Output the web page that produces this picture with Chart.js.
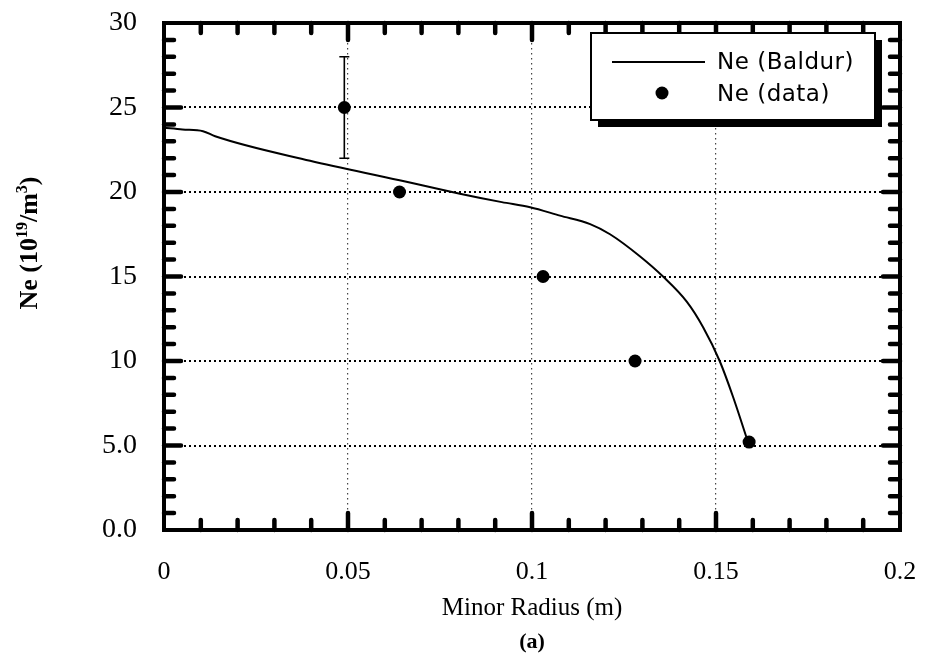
<!DOCTYPE html>
<html>
<head>
<meta charset="utf-8">
<script src="https://cdn.jsdelivr.net/npm/chart.js@4.4.1/dist/chart.umd.min.js"></script>
<style>
html, body { margin: 0; padding: 0; background: #fff; }
</style>
</head>
<body>
<canvas id="chart" width="926" height="660"></canvas>
<script>
// Baldur simulation curve
const radiusBaldur = [0, 0.005, 0.0106, 0.0139, 0.0397, 0.064, 0.0804, 0.0918, 0.0995, 0.1076, 0.1158, 0.1212, 0.1293, 0.1356, 0.1421, 0.1465, 0.151, 0.1546, 0.1587]
const neBaldur = [23.8, 23.7, 23.6, 23.3, 21.85, 20.7, 19.9, 19.4, 19.1, 18.6, 18.1, 17.5, 16.2, 15.0, 13.5, 12.0, 10.0, 7.9, 5.2]

// measured points
const radiusData = [0.049, 0.064, 0.103, 0.128, 0.159]
const neData = [25, 20, 15, 10, 5.2]
const neErrLow = [22, null, null, null, null]
const neErrHigh = [28, null, null, null, null]

const xTickLabels = ['0', '0.05', '0.1', '0.15', '0.2']
const yTickLabels = ['0.0', '5.0', '10', '15', '20', '25', '30']

const seriesLabels = ['Ne (Baldur)', 'Ne (data)']

function pairs(xs, ys){
    return xs.map((x, i) => ({x: x, y: ys[i]}))
}

// error bars on the data points
const errorBars = {
    id: 'errorBars',
    afterDatasetsDraw(chart){
        const ctx = chart.ctx
        const xs = chart.scales.x
        const ys = chart.scales.y
        ctx.save()
        ctx.strokeStyle = '#000'
        ctx.lineWidth = 1.6
        radiusData.forEach((r, i) => {
            if (neErrLow[i] == null) return
            const px = xs.getPixelForValue(r)
            const lo = ys.getPixelForValue(neErrLow[i])
            const hi = ys.getPixelForValue(neErrHigh[i])
            ctx.beginPath()
            ctx.moveTo(px, lo); ctx.lineTo(px, hi)
            ctx.moveTo(px - 5, lo); ctx.lineTo(px + 5, lo)
            ctx.moveTo(px - 5, hi); ctx.lineTo(px + 5, hi)
            ctx.stroke()
        })
        ctx.restore()
    }
}

// heavy frame with inside ticks on all four sides
const frame = {
    id: 'frame',
    afterDatasetsDraw(chart){
        const ctx = chart.ctx
        const a = chart.chartArea
        const xs = chart.scales.x
        const ys = chart.scales.y
        ctx.save()
        ctx.strokeStyle = '#000'
        ctx.lineCap = 'round'
        ctx.lineWidth = 4.5
        for (let i = 1; i < 20; i++){
            const px = xs.getPixelForValue(i / 100)
            const len = i % 5 === 0 ? 17 : 10
            ctx.beginPath()
            ctx.moveTo(px, a.bottom); ctx.lineTo(px, a.bottom - len)
            ctx.moveTo(px, a.top); ctx.lineTo(px, a.top + len)
            ctx.stroke()
        }
        for (let i = 1; i < 30; i++){
            const py = ys.getPixelForValue(i)
            const len = i % 5 === 0 ? 17 : 10
            ctx.beginPath()
            ctx.moveTo(a.left, py); ctx.lineTo(a.left + len, py)
            ctx.moveTo(a.right, py); ctx.lineTo(a.right - len, py)
            ctx.stroke()
        }
        ctx.lineCap = 'butt'
        ctx.lineWidth = 4
        ctx.strokeRect(a.left, a.top, a.right - a.left, a.bottom - a.top)
        ctx.restore()
    }
}

// boxed legend with drop shadow, plus the rotated y title with superscripts
const decorations = {
    id: 'decorations',
    afterDraw(chart){
        const ctx = chart.ctx
        ctx.save()
        // legend
        const bx = 591, by = 33, bw = 284, bh = 87
        ctx.fillStyle = '#000'
        ctx.fillRect(bx + 7, by + 7, bw, bh)
        ctx.fillStyle = '#fff'
        ctx.fillRect(bx, by, bw, bh)
        ctx.strokeStyle = '#000'
        ctx.lineWidth = 2
        ctx.strokeRect(bx, by, bw, bh)
        ctx.beginPath()
        ctx.moveTo(612, 62); ctx.lineTo(705, 62)
        ctx.stroke()
        ctx.fillStyle = '#000'
        ctx.beginPath()
        ctx.arc(662, 93, 6.5, 0, Math.PI * 2)
        ctx.fill()
        ctx.font = '23px "DejaVu Sans"'
        ctx.letterSpacing = '0.5px'
        ctx.textBaseline = 'alphabetic'
        ctx.textAlign = 'left'
        ctx.fillText(chart.data.datasets[0].label, 717, 69)
        ctx.fillText(chart.data.datasets[1].label, 717, 101)
        ctx.letterSpacing = '0px'

        // y axis title
        const parts = [
            {t: 'Ne (10', sup: false},
            {t: '19', sup: true},
            {t: '/m', sup: false},
            {t: '3', sup: true},
            {t: ')', sup: false}
        ]
        const big = 'bold 26px "Liberation Serif"'
        const small = 'bold 16px "Liberation Serif"'
        let total = 0
        parts.forEach(p => {
            ctx.font = p.sup ? small : big
            p.w = ctx.measureText(p.t).width
            total += p.w
        })
        ctx.translate(37, 243)
        ctx.rotate(-Math.PI / 2)
        let x = -total / 2
        parts.forEach(p => {
            ctx.font = p.sup ? small : big
            ctx.fillText(p.t, x, p.sup ? -10 : 0)
            x += p.w
        })
        ctx.restore()
    }
}

const ctx = document.getElementById('chart').getContext('2d')
const myChart = new Chart(ctx, {
    type: 'scatter',
    data: {
        datasets: [{
            label: seriesLabels[0],
            data: pairs(radiusBaldur, neBaldur),
            showLine: true,
            borderColor: '#000',
            borderWidth: 2,
            pointRadius: 0,
            cubicInterpolationMode: 'monotone'
        }, {
            label: seriesLabels[1],
            data: pairs(radiusData, neData),
            showLine: false,
            backgroundColor: '#000',
            borderColor: '#000',
            pointRadius: 6.5,
            pointBorderWidth: 0
        }]
    },
    options: {
        responsive: false,
        animation: false,
        devicePixelRatio: 1,
        layout: {padding: {top: 23, right: 26, left: 0, bottom: 0}},
        plugins: {
            legend: {display: false},
            tooltip: {enabled: false},
            title: {
                display: true,
                position: 'bottom',
                fullSize: false,
                text: '(a)',
                color: '#000',
                font: {family: '"Liberation Serif"', size: 22, weight: 'bold'},
                padding: {top: 0, bottom: 4}
            }
        },
        scales: {
            x: {
                type: 'linear',
                min: 0,
                max: 0.2,
                afterFit: function(scale){
                    scale.height = 99.6
                    scale.paddingLeft = 0
                    scale.paddingRight = 0
                },
                ticks: {
                    stepSize: 0.05,
                    padding: 27,
                    color: '#000',
                    font: {family: '"Liberation Serif"', size: 26},
                    callback: function(value, index){ return xTickLabels[index] }
                },
                grid: {color: '#444', lineWidth: 1.2, drawTicks: false},
                border: {display: false, dash: [1.5, 3.5]},
                title: {
                    display: true,
                    text: 'Minor Radius (m)',
                    color: '#000',
                    font: {family: '"Liberation Serif"', size: 25},
                    padding: {top: 0, bottom: 6.6}
                }
            },
            y: {
                min: 0,
                max: 30,
                afterFit: function(scale){
                    scale.width = 164
                    scale.paddingTop = 0
                    scale.paddingBottom = 0
                },
                ticks: {
                    stepSize: 5,
                    padding: 27,
                    color: '#000',
                    font: {family: '"Liberation Serif"', size: 28},
                    callback: function(value, index){ return yTickLabels[index] }
                },
                grid: {color: '#000', lineWidth: 2, drawTicks: false},
                border: {display: false, dash: [2, 3]}
            }
        }
    },
    plugins: [errorBars, frame, decorations]
})
</script>
</body>
</html>
